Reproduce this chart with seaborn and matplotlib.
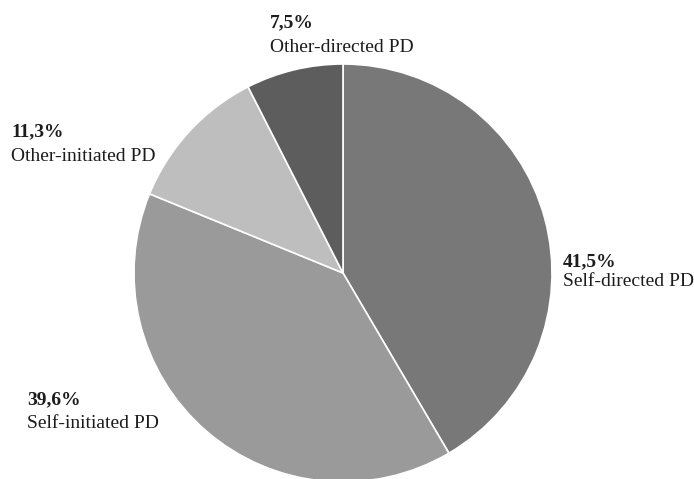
import matplotlib
matplotlib.use("Agg")
import matplotlib.pyplot as plt
import seaborn as sns

categories = ["Self-directed PD", "Self-initiated PD", "Other-initiated PD", "Other-directed PD"]
values = [41.5, 39.6, 11.3, 7.5]
pct_labels = ["41,5%", "39,6%", "11,3%", "7,5%"]
colors = ["#787878", "#9a9a9a", "#bebebe", "#5d5d5d"]

# label anchor positions in pixel coords (x left, baseline y from top)
label_pos = {
    "Self-directed PD": (563, 266, 286),
    "Self-initiated PD": (27, 404, 428),
    "Other-initiated PD": (11, 136, 161),
    "Other-directed PD": (270, 27, 52),
}

sns.set_theme(style="white")
plt.rcParams['font.family'] = ['Liberation Serif', 'DejaVu Serif']

W, H = 694, 479
fig = plt.figure(figsize=(W / 100, H / 100), dpi=100)
ax = fig.add_axes([0, 0, 1, 1])

ax.pie(values, colors=colors, startangle=90, counterclock=False,
       center=(343, H - 273), radius=209, frame=True,
       wedgeprops=dict(edgecolor="white", linewidth=1.2))
ax.set_xlim(0, W)
ax.set_ylim(0, H)
ax.set_aspect('equal')
ax.axis('off')

for cat, pct in zip(categories, pct_labels):
    x, y1, y2 = label_pos[cat]
    ax.text(x, H - y1, pct, fontsize=14, fontweight='bold', color="#1c1c1c",
            ha='left', va='baseline')
    ax.text(x, H - y2, cat, fontsize=14, color="#1c1c1c", ha='left', va='baseline')

fig.savefig("out.png", dpi=100, facecolor="white")
